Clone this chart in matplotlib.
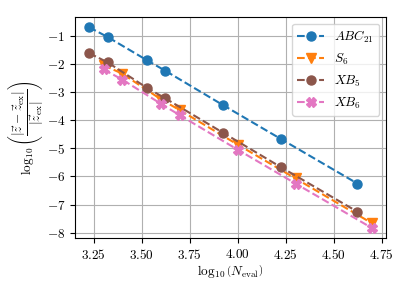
import matplotlib
matplotlib.use("Agg")
import matplotlib.pyplot as plt
import numpy as np

plt.rcParams["font.family"] = "serif"
plt.rcParams["font.serif"] = ["cmr10"]
plt.rcParams["mathtext.fontset"] = "cm"
plt.rcParams["axes.formatter.use_mathtext"] = True
plt.rcParams["font.size"] = 9.5

# log10 of number of evaluations
x_abc = [3.225, 3.322, 3.526, 3.623, 3.924, 4.225, 4.623]
x_s = [3.301, 3.398, 3.602, 3.699, 4.000, 4.301, 4.699]

# log10 relative error
y_abc21 = [-0.70, -1.05, -1.87, -2.25, -3.47, -4.67, -6.25]
y_s6 = [-2.05, -2.35, -3.27, -3.65, -4.87, -6.07, -7.66]
y_xb5 = [-1.62, -1.95, -2.85, -3.23, -4.45, -5.67, -7.25]
y_xb6 = [-2.20, -2.56, -3.43, -3.83, -5.05, -6.25, -7.83]

series = [
    (x_abc, y_abc21, "o", "tab:blue", r"$ABC_{21}$"),
    (x_s, y_s6, "v", "tab:orange", r"$S_6$"),
    (x_abc, y_xb5, "o", "tab:brown", r"$XB_5$"),
    (x_s, y_xb6, "X", "tab:pink", r"$XB_6$"),
]

fig, ax = plt.subplots(figsize=(4.09, 2.90), dpi=100)
fig.subplots_adjust(left=0.183, right=0.944, top=0.941, bottom=0.179)

for xs, ys, marker, color, label in series:
    ax.plot(xs, ys, linestyle="--", marker=marker, color=color, label=label, markersize=6.5)

ax.grid(True)
ax.set_xticks([3.25, 3.50, 3.75, 4.00, 4.25, 4.50, 4.75])
ax.set_xlabel(r"$\log_{10}\left(N_{\mathrm{eval}}\right)$", labelpad=1)
ax.set_ylabel(r"$\log_{10}\left(\dfrac{|\vec{z}-\vec{z}_{\mathrm{ex}}|}{|\vec{z}_{\mathrm{ex}}|}\right)$", labelpad=1)
ax.legend(loc="upper right")

fig.savefig("out.png", dpi=100)
